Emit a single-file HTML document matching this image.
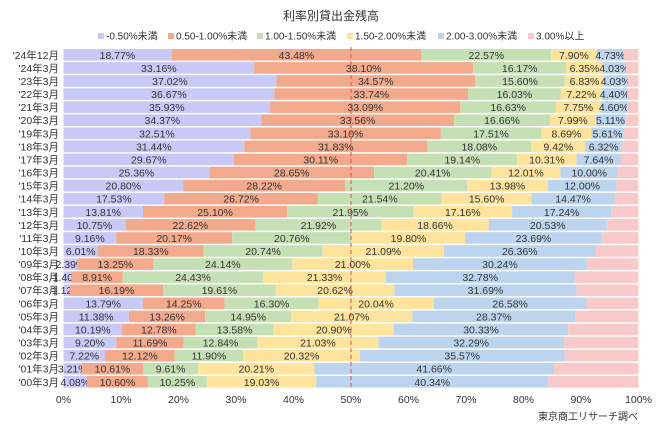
<!DOCTYPE html>
<html><head><meta charset="utf-8">
<style>
body{margin:0;background:#fff;}
svg{display:block;font-family:"Liberation Sans","Noto Sans CJK JP",sans-serif;}
</style></head>
<body>
<svg id="chart" width="663" height="431" viewBox="0 0 663 431">
<text x="331" y="20" text-anchor="middle" font-size="12" fill="#333">利率別貸出金残高</text>
<g id="legend"></g>
<g id="bars"></g>
<g id="xaxis"></g>
<text x="638" y="420" text-anchor="end" font-size="10" fill="#333">東京商工リサーチ調べ</text>
</svg>
<script>
const categories=["'24年12月","'24年3月","'23年3月","'22年3月","'21年3月","'20年3月","'19年3月","'18年3月","'17年3月","'16年3月","'15年3月","'14年3月","'13年3月","'12年3月","'11年3月","'10年3月","'09年3月","'08年3月","'07年3月","'06年3月","'05年3月","'04年3月","'03年3月","'02年3月","'01年3月","'00年3月"];
const seriesNames=["-0.50%未満","0.50-1.00%未満","1.00-1.50%未満","1.50-2.00%未満","2.00-3.00%未満","3.00%以上"];
const s1=[18.77,33.16,37.02,36.67,35.93,34.37,32.51,31.44,29.67,25.36,20.80,17.53,13.81,10.75,9.16,6.01,2.39,1.40,1.12,13.79,11.38,10.19,9.20,7.22,3.21,4.08];
const s2=[43.48,38.10,34.57,33.74,33.09,33.56,33.10,31.83,30.11,28.65,28.22,26.72,25.10,22.62,20.17,18.33,13.25,8.91,16.19,14.25,13.26,12.78,11.69,12.12,10.61,10.60];
const s3=[22.57,16.17,15.60,16.03,16.63,16.66,17.51,18.08,19.14,20.41,21.20,21.54,21.95,21.92,20.76,20.74,24.14,24.43,19.61,16.30,14.95,13.58,12.84,11.90,9.61,10.25];
const s4=[7.90,6.35,6.83,7.22,7.75,7.99,8.69,9.42,10.31,12.01,13.98,15.60,17.16,18.66,19.80,21.09,21.00,21.33,20.62,20.04,21.07,20.90,21.03,20.32,20.21,19.03];
const s5=[4.73,4.03,4.03,4.40,4.60,5.11,5.61,6.32,7.64,10.00,12.00,14.47,17.24,20.53,23.69,26.36,30.24,32.78,31.69,26.58,28.37,30.33,32.29,35.57,41.66,40.34];
const xTicks=[0,10,20,30,40,50,60,70,80,90,100];
const colors=["#c9c9f7","#f3a98c","#c6e0b5","#fde39b","#bcd4ee","#f8c9c9"];
const NS="http://www.w3.org/2000/svg";
const X0=63.5,X1=638.5,Y0=49,PITCH=13.08,BH=11.6;
const xs=v=>X0+(X1-X0)*v/100;
const ys=i=>Y0+i*PITCH;
function mk(t,a,p){const e=document.createElementNS(NS,t);for(const k in a)e.setAttribute(k,a[k]);p.appendChild(e);return e;}
const series=[s1,s2,s3,s4,s5];
const bars=document.getElementById('bars');
categories.forEach((c,i)=>{
  const y=ys(i);
  const lab=mk('text',{x:59,y:y+BH/2+4,'text-anchor':'end','font-size':10.5,fill:'#333'},bars);
  lab.textContent=c;
  
  
  let acc=0;
  for(let s=0;s<6;s++){
    const v=s<5?series[s][i]:100-acc;
    const r=mk('rect',{x:xs(acc),y:y,width:Math.max(0,xs(acc+v)-xs(acc)),height:BH,fill:colors[s]},bars);
    
    
    if(s<5){
      const t=mk('text',{x:xs(acc+v/2),y:y+BH/2+4,'text-anchor':'middle','font-size':10.5,fill:'#333'},bars);
      t.textContent=v.toFixed(2)+'%';
      
      
    }
    acc+=v;
  }
});
const dl=mk('line',{x1:xs(50),x2:xs(50),y1:ys(0)-2,y2:ys(categories.length-1)+BH+2,stroke:'#d9534f','stroke-dasharray':'4,3','stroke-width':1},bars);


const xa=document.getElementById('xaxis');
xTicks.forEach(v=>{
  const t=mk('text',{x:xs(v),y:403,'text-anchor':'middle','font-size':10.5,fill:'#333'},xa);
  t.textContent=v+'%';
  
  
});
const lg=document.getElementById('legend');
const lx=[98,168,257,347,438,528];
seriesNames.forEach((n,i)=>{
  const g=mk('g',{},lg);
  
  
  mk('rect',{x:lx[i],y:33,width:6,height:6,fill:colors[i]},g);
  const t=mk('text',{x:lx[i]+8,y:39.5,'font-size':10,fill:'#333'},g);
  t.textContent=n;
});
</script>
</body></html>
